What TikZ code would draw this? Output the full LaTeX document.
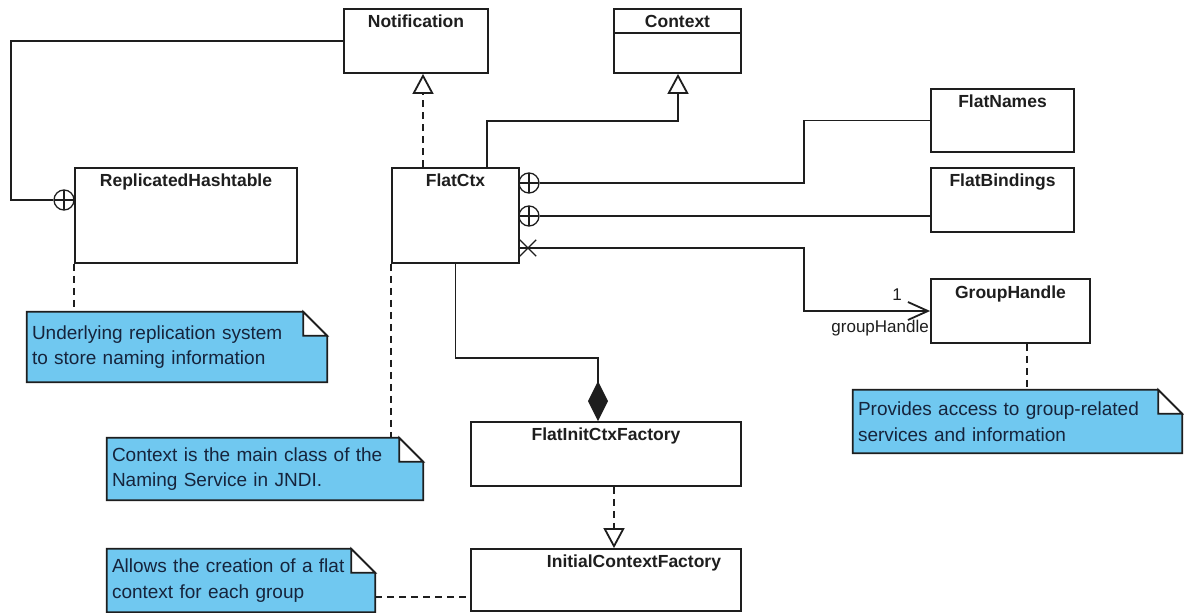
\documentclass[tikz,border=0pt]{standalone}
\usepackage{fontspec}
\setmainfont{Liberation Sans}
\usetikzlibrary{arrows.meta,shapes.misc,backgrounds}

\definecolor{notefill}{RGB}{112,200,240}
\definecolor{notetext}{RGB}{22,36,60}
\definecolor{ink}{RGB}{30,30,30}

\tikzset{
  uml/.style={rectangle, draw=ink, line width=1.8pt, fill=white, inner sep=0pt},
  clsname/.style={font=\fontsize{17.5}{19}\selectfont\bfseries, anchor=base, inner sep=0pt, text=ink},
  conn/.style={draw=ink, line width=1.8pt},
  dashconn/.style={conn, dash pattern=on 7pt off 5pt},
  nest/.style={circle, draw=ink, fill=white, line width=1.3pt, minimum size=20pt, inner sep=0pt,
    path picture={\draw[ink, line width=1.3pt]
      (path picture bounding box.north) -- (path picture bounding box.south)
      (path picture bounding box.west) -- (path picture bounding box.east);}},
  navx/.style={cross out, draw=ink, line width=1.3pt, minimum size=15pt, inner sep=0pt},
  notebox/.style={align=left, inner xsep=5pt, inner ysep=0pt,
    font=\fontsize{19}{25.5}\selectfont, text=notetext},
  notebody/.style={fill=notefill, draw=ink, line width=1.8pt, line join=miter},
  realize/.style={dashconn, -{Triangle[open, length=20pt, width=21pt]}},
  generalize/.style={conn, -{Triangle[open, length=20pt, width=21pt]}},
  navarrow/.style={conn, -{Straight Barb[length=20pt, width=18pt]}},
  compose/.style={conn, {Diamond[length=40pt, width=20pt]}-},
  assoclabel/.style={font=\fontsize{17}{20}\selectfont, inner sep=0pt, text=ink}
}

% dog-eared note outline around a named node
\newcommand{\umlnotebody}[1]{%
  \filldraw[notebody] (#1.north west) -- ([xshift=-24pt]#1.north east)
    -- ([yshift=-24pt]#1.north east) -- (#1.south east) -- (#1.south west) -- cycle;
  \filldraw[notebody, fill=white] ([xshift=-24pt]#1.north east)
    -- ([xshift=-24pt,yshift=-24pt]#1.north east) -- ([yshift=-24pt]#1.north east) -- cycle;
}

\begin{document}
\begin{tikzpicture}[x=1pt, y=-1pt]
\useasboundingbox (0,0) rectangle (1184,613);

% ---------- classes ----------
\node[uml, minimum width=144pt, minimum height=64pt] (notif) at (416,41) {};
\node[clsname] (notif-t) at ([yshift=-19pt]notif.north) {Notification};

\node[uml, minimum width=127pt, minimum height=64pt] (context) at (677.5,41) {};
\node[clsname] (context-t) at ([yshift=-19pt]context.north) {Context};
\draw[ink, line width=1.5pt] (context.west |- 0,33) -- (context.east |- 0,33);

\node[uml, minimum width=222pt, minimum height=95pt] (rh) at (186,215.5) {};
\node[clsname] (rh-t) at ([yshift=-19pt]rh.north) {ReplicatedHashtable};

\node[uml, minimum width=127pt, minimum height=95pt] (flatctx) at (455.5,215.5) {};
\node[clsname] (flatctx-t) at ([yshift=-19pt]flatctx.north) {FlatCtx};

\node[uml, minimum width=143pt, minimum height=63pt] (flatnames) at (1002.5,120.5) {};
\node[clsname] (flatnames-t) at ([yshift=-19pt]flatnames.north) {FlatNames};

\node[uml, minimum width=143pt, minimum height=64pt] (flatbind) at (1002.5,200) {};
\node[clsname] (flatbind-t) at ([yshift=-19pt]flatbind.north) {FlatBindings};

\node[uml, minimum width=159pt, minimum height=64pt] (grouph) at (1010.5,311) {};
\node[clsname] (grouph-t) at ([yshift=-20pt]grouph.north) {GroupHandle};

\node[uml, minimum width=270pt, minimum height=64pt] (fictx) at (606,454) {};
\node[clsname] (fictx-t) at ([yshift=-19pt]fictx.north) {FlatInitCtxFactory};

\node[uml, minimum width=270pt, minimum height=62pt] (icf) at (606,580) {};
\node[clsname] (icf-t) at ([xshift=28pt,yshift=-19pt]icf.north) {InitialContextFactory};

% ---------- notes ----------
\node[notebox, text width=290pt, minimum width=300pt, minimum height=70pt] (note1) at (177,347)
  {Underlying replication system\\to store naming information};
\node[notebox, text width=306pt, minimum width=316pt, minimum height=62pt] (note2) at (265,469)
  {Context is the main class of the\\Naming Service in JNDI.};
\node[notebox, text width=258pt, minimum width=268pt, minimum height=63pt] (note3) at (241,580.5)
  {Allows the creation of a flat\\context for each group};
\node[notebox, text width=319pt, minimum width=329pt, minimum height=63pt] (note4) at (1017.5,421.5)
  {Provides access to group-related\\services and information};

\begin{scope}[on background layer]
  \fill[white] (0,0) rectangle (1184,613);
  \umlnotebody{note1}
  \umlnotebody{note2}
  \umlnotebody{note3}
  \umlnotebody{note4}
\end{scope}

% ---------- relationships ----------
% ReplicatedHashtable nested in Notification
\node[nest] (rhplus) at (64,200) {};
\draw[conn] (notif.west) -- (11,41) |- (rhplus.west);

% FlatCtx realizes Notification
\draw[realize] (flatctx.north -| 423,0) -- (notif.south -| 423,0);

% FlatCtx extends Context
\draw[generalize] (flatctx.north -| 487,0) |- (678,121) -- (context.south -| 678,0);

% FlatNames and FlatBindings nested in FlatCtx
\node[nest] (fnplus) at (529,183) {};
\draw[conn] (fnplus.east) -- (804,183) |- (flatnames.west);
\node[nest] (fbplus) at (529,216) {};
\draw[conn] (fbplus.east) -- (fbplus.east -| flatbind.west);

% navigable association to GroupHandle
\node[navx] (ghx) at (528,248) {};
\draw[navarrow] (flatctx.east |- ghx) -- (804,248) |- (grouph.west);
\node[assoclabel] (ghmult) at (897,295) {1};
\node[assoclabel, anchor=base east] (ghrole) at (929,332) {groupHandle};

% FlatCtx composed of FlatInitCtxFactory
\draw[compose] ([xshift=-8pt]fictx.north) |- (455.5,358) -- (flatctx.south);

% FlatInitCtxFactory realizes InitialContextFactory
\draw[realize] ([xshift=8pt]fictx.south) -- ([xshift=8pt]icf.north);

% note anchors
\draw[dashconn] (rh.south west) -- (rh.south west |- note1.north);
\draw[dashconn] (flatctx.south west) -- (flatctx.south west |- note2.north);
\draw[dashconn] ([xshift=16.5pt]grouph.south) -- ([xshift=16.5pt]grouph.south |- note4.north);
\draw[dashconn] (note3.east |- 0,597) -- (icf.west |- 0,597);
\end{tikzpicture}
\end{document}
